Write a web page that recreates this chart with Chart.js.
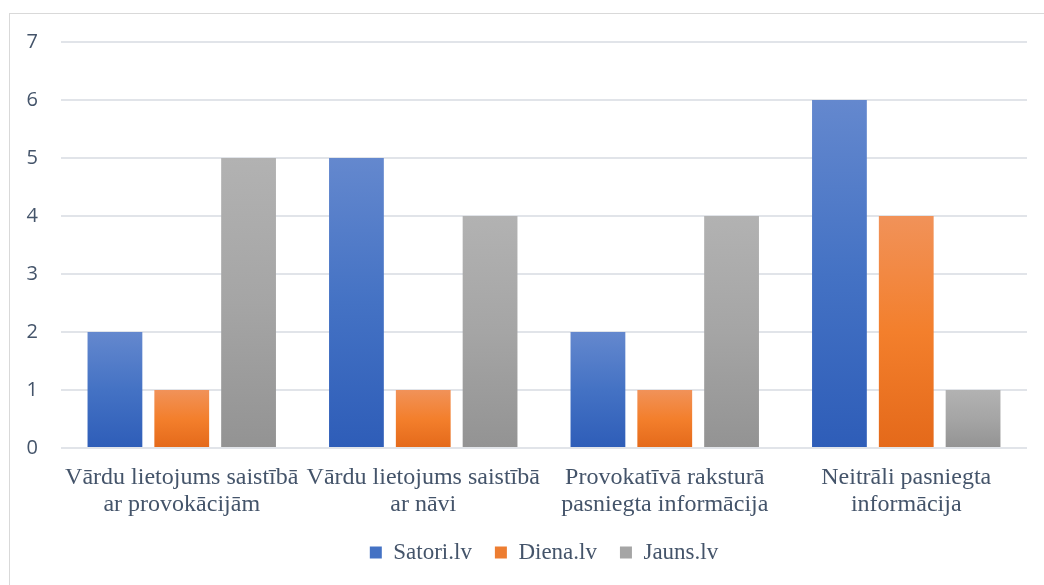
<!DOCTYPE html>
<html>
<head>
<meta charset="utf-8">
<script src="https://cdn.jsdelivr.net/npm/chart.js@4/dist/chart.umd.min.js"></script>
<style>
    html, body { margin: 0; padding: 0; background: #fff; overflow: hidden; }
    #frame {
        position: absolute; left: 9px; top: 13px;
        width: 1050px; height: 600px;
        border: 1px solid #D9D9D9;
        box-sizing: border-box;
    }
    #chart { display: block; }
</style>
</head>
<body>
<div id="frame"><canvas id="chart" width="1028" height="588"></canvas></div>
<script>
// Data
const categories = [
    ['Vārdu lietojums saistībā', 'ar provokācijām'],
    ['Vārdu lietojums saistībā', 'ar nāvi'],
    ['Provokatīvā raksturā', 'pasniegta informācija'],
    ['Neitrāli pasniegta', 'informācija']
];
const seriesNames = ['Satori.lv', 'Diena.lv', 'Jauns.lv'];
const satori = [2, 5, 2, 6];
const diena = [1, 1, 1, 4];
const jauns = [5, 4, 4, 1];
const yTicks = [0, 1, 2, 3, 4, 5, 6, 7];

// Colours: light top, base, dark bottom
const palette = [
    { top: '#6488CE', mid: '#4472C4', bottom: '#2E5DB8', solid: '#4472C4' },
    { top: '#F19259', mid: '#F37F2C', bottom: '#E4691A', solid: '#ED7D31' },
    { top: '#B2B2B2', mid: '#A5A5A5', bottom: '#939393', solid: '#A5A5A5' }
];

function barGradient(idx) {
    return function(ctx) {
        const chart = ctx.chart;
        const c = palette[idx];
        if (ctx.type !== 'data' || !chart.chartArea) return c.solid;
        const y = chart.scales.y;
        const top = y.getPixelForValue(ctx.raw);
        const bottom = y.getPixelForValue(0);
        const g = chart.ctx.createLinearGradient(0, top, 0, bottom);
        g.addColorStop(0, c.top);
        g.addColorStop(0.5, c.mid);
        g.addColorStop(1, c.bottom);
        return g;
    };
}

const textColor = '#44546A';
const gridColor = '#E1E4E9';
const serif = '"Liberation Serif", "Times New Roman", serif';

new Chart(document.getElementById('chart'), {
    type: 'bar',
    data: {
        labels: categories,
        datasets: [satori, diena, jauns].map((values, i) => ({
            label: seriesNames[i],
            data: values,
            backgroundColor: barGradient(i),
            borderWidth: 0,
            categoryPercentage: 0.83,
            barPercentage: 0.82
        }))
    },
    options: {
        responsive: false,
        animation: false,
        layout: { padding: { top: 28, right: 11, left: 0, bottom: 28 } },
        scales: {
            x: {
                afterFit: scale => { scale.height = 70; },
                grid: { display: false, drawTicks: false },
                border: { display: false },
                ticks: {
                    color: textColor,
                    font: { family: serif, size: 24, lineHeight: 1.1 },
                    maxRotation: 0,
                    autoSkip: false,
                    padding: 17
                }
            },
            y: {
                min: 0,
                max: 7,
                afterBuildTicks: scale => { scale.ticks = yTicks.map(v => ({ value: v })); },
                afterFit: scale => {
                    scale.width = 51;
                    scale.paddingTop = 0;
                    scale.paddingBottom = 0;
                },
                grid: { color: gridColor, lineWidth: 2, drawTicks: false },
                border: { display: false },
                ticks: {
                    color: textColor,
                    font: { family: '"Open Sans", "Noto Sans", sans-serif', size: 20 },
                    padding: 23
                }
            }
        },
        plugins: {
            tooltip: { enabled: false },
            legend: {
                position: 'bottom',
                fullSize: false,
                labels: {
                    color: textColor,
                    font: { family: serif, size: 23 },
                    boxWidth: 12,
                    boxHeight: 12,
                    padding: 23,
                    generateLabels: chart => {
                        const items = Chart.defaults.plugins.legend.labels.generateLabels(chart);
                        items.forEach((it, i) => {
                            it.fillStyle = palette[i].solid;
                            it.lineWidth = 0;
                            it.strokeStyle = 'transparent';
                        });
                        return items;
                    }
                }
            }
        }
    }
});
</script>
</body>
</html>
